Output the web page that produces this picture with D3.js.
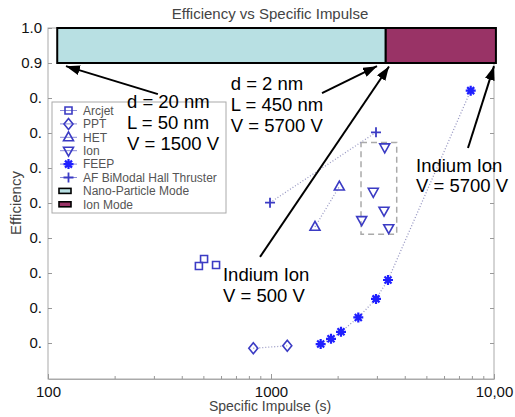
<!DOCTYPE html>
<html>
<head>
<meta charset="utf-8">
<script src="https://cdn.jsdelivr.net/npm/d3@7"></script>
<style>
  body { margin: 0; background: #fff; }
  svg { font-family: "Liberation Sans", Arial, sans-serif; }
</style>
</head>
<body>
<svg width="515" height="417"></svg>
<script>
// data
var arcjetIsp = [475, 501, 567];
var arcjetEff = [0.32, 0.34, 0.323];
var pptIsp = [833, 1183];
var pptEff = [0.085, 0.092];
var hetIsp = [1575, 2025];
var hetEff = [0.432, 0.547];
var ionIsp = [3236, 2875, 3212, 2551, 3372];
var ionEff = [0.659, 0.532, 0.478, 0.451, 0.428];
var feepIsp = [1670, 1858, 2060, 2463, 2957, 3347, 7862];
var feepEff = [0.097, 0.112, 0.132, 0.173, 0.226, 0.28, 0.821];
var afIsp = [990, 2957];
var afEff = [0.501, 0.702];

var ionBoxIsp = [2533, 3662];
var ionBoxEff = [0.411, 0.673];

var modeNames = ['Nano-Particle Mode', 'Ion Mode'];
var modeStart = [110, 3270];
var modeEnd = [3270, 10200];
var modeEff = [0.9, 1.0];

var xTicksMajor = [100, 1000, 10000];
var xTickLabels = ['100', '1000', '10,00'];
var xTicksMinor = [200, 300, 400, 500, 600, 700, 800, 900,
  2000, 3000, 4000, 5000, 6000, 7000, 8000, 9000];
var yTicks = [0.1, 0.2, 0.3, 0.4, 0.5, 0.6, 0.7, 0.8, 0.9, 1.0];
var yTickLabels = ['0.', '0.', '0.', '0.', '0.', '0.', '0.', '0.', '0.9', '1.0'];

var noteLines = [
  ['d = 20 nm', 'L = 50 nm', 'V = 1500 V'],
  ['d = 2 nm', 'L = 450 nm', 'V = 5700 V'],
  ['Indium Ion', 'V = 500 V'],
  ['Indium Ion', 'V = 5700 V']
];
var noteIsp = [226, 660, 609, 4470];
var noteEff = [0.771, 0.823, 0.276, 0.59];

var arrowFrom = [[311, 0.811], [1693, 0.814], [893, 0.346], [7645, 0.657]];
var arrowTo = [[120.4, 0.891], [2988, 0.891], [3382, 0.89], [10000, 0.891]];

var svg = d3.select('svg');
var blue = '#3b3bc4';
var dotCol = '#9a9ac4';

var xScale = d3.scaleLog().domain([100, 10000]).range([48, 494]);
var yScale = d3.scaleLinear().domain([0, 1]).range([378, 28]);

var defs = svg.append('defs');
defs.append('marker')
  .attr('id', 'head')
  .attr('markerUnits', 'userSpaceOnUse')
  .attr('viewBox', '0 0 14 10')
  .attr('markerWidth', 14)
  .attr('markerHeight', 10)
  .attr('refX', 14)
  .attr('refY', 5)
  .attr('orient', 'auto')
  .append('path')
  .attr('d', 'M0,0 L14,5 L0,10 Z')
  .attr('fill', '#000');

// frame
svg.append('rect')
  .attr('x', 48).attr('y', 28)
  .attr('width', 494 - 48).attr('height', 379 - 28)
  .attr('fill', 'none')
  .attr('stroke', '#aaa');

// x axis
var xAxis = d3.axisBottom(xScale)
  .tickValues(xTicksMajor)
  .tickSizeInner(-5).tickSizeOuter(0).tickPadding(7)
  .tickFormat(function(d, i) { return xTickLabels[i]; });
var xG = svg.append('g')
  .attr('transform', 'translate(0,379)')
  .call(xAxis);
xG.select('.domain').attr('stroke', '#aaa');
xG.selectAll('.tick line').attr('stroke', '#999');
xG.selectAll('text').attr('font-size', 15).attr('fill', '#111');

svg.append('g').selectAll('line')
  .data(xTicksMinor)
  .enter().append('line')
  .attr('x1', function(d) { return xScale(d); })
  .attr('x2', function(d) { return xScale(d); })
  .attr('y1', 379).attr('y2', 376)
  .attr('stroke', '#999');

// y axis left + right
var yAxis = d3.axisLeft(yScale)
  .tickValues(yTicks)
  .tickSizeInner(-4).tickSizeOuter(0).tickPadding(6)
  .tickFormat(function(d, i) { return yTickLabels[i]; });
var yG = svg.append('g')
  .attr('transform', 'translate(48,0)')
  .call(yAxis);
yG.select('.domain').remove();
yG.selectAll('.tick line').attr('stroke', '#999');
yG.selectAll('text').attr('font-size', 15).attr('fill', '#111');

var yR = svg.append('g')
  .attr('transform', 'translate(494,0)')
  .call(d3.axisRight(yScale).tickValues(yTicks).tickSizeInner(-4).tickSizeOuter(0).tickFormat(''));
yR.select('.domain').remove();
yR.selectAll('.tick line').attr('stroke', '#999');

// titles
svg.append('text')
  .attr('x', 270).attr('y', 19)
  .attr('text-anchor', 'middle')
  .attr('font-size', 15).attr('fill', '#444')
  .text('Efficiency vs Specific Impulse');
svg.append('text')
  .attr('x', 270).attr('y', 411)
  .attr('text-anchor', 'middle')
  .attr('font-size', 14).attr('fill', '#444')
  .text('Specific Impulse (s)');
svg.append('text')
  .attr('transform', 'translate(21,203) rotate(-90)')
  .attr('text-anchor', 'middle')
  .attr('font-size', 15).attr('fill', '#444')
  .text('Efficiency');

// mode bars
var modeFill = ['#b8e0e3', '#993366'];
svg.append('g').selectAll('rect')
  .data(modeNames)
  .enter().append('rect')
  .attr('x', function(d, i) { return xScale(modeStart[i]); })
  .attr('width', function(d, i) { return xScale(modeEnd[i]) - xScale(modeStart[i]); })
  .attr('y', yScale(modeEff[1]))
  .attr('height', yScale(modeEff[0]) - yScale(modeEff[1]))
  .attr('fill', function(d, i) { return modeFill[i]; })
  .attr('stroke', '#000')
  .attr('stroke-width', 2);

// ion dashed box
svg.append('rect')
  .attr('x', xScale(ionBoxIsp[0]))
  .attr('y', yScale(ionBoxEff[1]))
  .attr('width', xScale(ionBoxIsp[1]) - xScale(ionBoxIsp[0]))
  .attr('height', yScale(ionBoxEff[0]) - yScale(ionBoxEff[1]))
  .attr('fill', 'none')
  .attr('stroke', '#aaa')
  .attr('stroke-width', 1.5)
  .attr('stroke-dasharray', '6,4');

// marker shapes
function markerPath(type) {
  if (type === 'square') return 'M-3.5,-3.5H3.5V3.5H-3.5Z';
  if (type === 'diamond') return 'M0,-5.5L4.5,0L0,5.5L-4.5,0Z';
  if (type === 'up') return 'M0,-5.5L5,3.5L-5,3.5Z';
  if (type === 'down') return 'M-5,-3.5L5,-3.5L0,5.5Z';
  if (type === 'plus') return 'M-5,0H5M0,-5V5';
  if (type === 'star') return 'M-5,0H5M0,-5V5M-3.5,-3.5L3.5,3.5M-3.5,3.5L3.5,-3.5';
}

var series = [
  {name: 'Arcjet', type: 'square', isp: arcjetIsp, eff: arcjetEff, line: false},
  {name: 'PPT', type: 'diamond', isp: pptIsp, eff: pptEff, line: true},
  {name: 'HET', type: 'up', isp: hetIsp, eff: hetEff, line: true},
  {name: 'Ion', type: 'down', isp: ionIsp, eff: ionEff, line: false},
  {name: 'FEEP', type: 'star', isp: feepIsp, eff: feepEff, line: true},
  {name: 'AF BiModal Hall Thruster', type: 'plus', isp: afIsp, eff: afEff, line: true}
];

function styleMarker(sel, type) {
  if (type === 'star') {
    sel.attr('stroke', '#1f1fff').attr('stroke-width', 2.2).attr('fill', 'none');
  } else if (type === 'plus') {
    sel.attr('stroke', blue).attr('stroke-width', 1.8).attr('fill', 'none');
  } else {
    sel.attr('stroke', blue).attr('stroke-width', 1.6).attr('fill', 'none');
  }
}

var line = d3.line()
  .x(function(d) { return xScale(d[0]); })
  .y(function(d) { return yScale(d[1]); });

series.forEach(function(s) {
  var pts = s.isp.map(function(v, i) { return [v, s.eff[i]]; });
  if (s.line) {
    svg.append('path')
      .attr('d', line(pts))
      .attr('fill', 'none')
      .attr('stroke', dotCol)
      .attr('stroke-width', 1.3)
      .attr('stroke-dasharray', '1,2');
  }
  svg.append('g').selectAll('path')
    .data(pts)
    .enter().append('path')
    .attr('transform', function(d) { return 'translate(' + [xScale(d[0]), yScale(d[1])] + ')'; })
    .attr('d', markerPath(s.type))
    .call(styleMarker, s.type);
});

// legend
var lg = svg.append('g');
lg.append('rect')
  .attr('x', 52).attr('y', 102)
  .attr('width', 174).attr('height', 111)
  .attr('fill', '#fff')
  .attr('stroke', '#aaa');
var rowY = function(i) { return 110.5 + i * 13.4; };
series.forEach(function(s, i) {
  lg.append('line')
    .attr('x1', 60).attr('x2', 77)
    .attr('y1', rowY(i)).attr('y2', rowY(i))
    .attr('stroke', '#8a8ad8');
  lg.append('path')
    .attr('transform', 'translate(68.5,' + rowY(i) + ')')
    .attr('d', markerPath(s.type))
    .call(styleMarker, s.type);
  lg.append('text')
    .attr('x', 83).attr('y', rowY(i))
    .attr('dy', '0.35em')
    .attr('font-size', 12).attr('fill', '#555')
    .text(s.name);
});
modeNames.forEach(function(m, i) {
  var yy = rowY(6 + i);
  lg.append('rect')
    .attr('x', 59).attr('y', yy - 2.5)
    .attr('width', 12).attr('height', 5)
    .attr('fill', modeFill[i])
    .attr('stroke', '#000')
    .attr('stroke-width', 1.6);
  lg.append('text')
    .attr('x', 83).attr('y', yy)
    .attr('dy', '0.35em')
    .attr('font-size', 12).attr('fill', '#555')
    .text(m);
});

// arrows
svg.append('g').selectAll('line')
  .data(arrowFrom)
  .enter().append('line')
  .attr('x1', function(d) { return xScale(d[0]); })
  .attr('y1', function(d) { return yScale(d[1]); })
  .attr('x2', function(d, i) { return xScale(arrowTo[i][0]); })
  .attr('y2', function(d, i) { return yScale(arrowTo[i][1]); })
  .attr('stroke', '#000')
  .attr('stroke-width', 2)
  .attr('marker-end', 'url(#head)');

// annotation text
noteLines.forEach(function(lines, i) {
  var t = svg.append('text')
    .attr('x', xScale(noteIsp[i]))
    .attr('y', yScale(noteEff[i]))
    .attr('font-size', 18.5)
    .attr('fill', '#000');
  lines.forEach(function(l, j) {
    t.append('tspan')
      .attr('x', xScale(noteIsp[i]))
      .attr('dy', j === 0 ? 0 : 20.8)
      .text(l);
  });
});
</script>
</body>
</html>
